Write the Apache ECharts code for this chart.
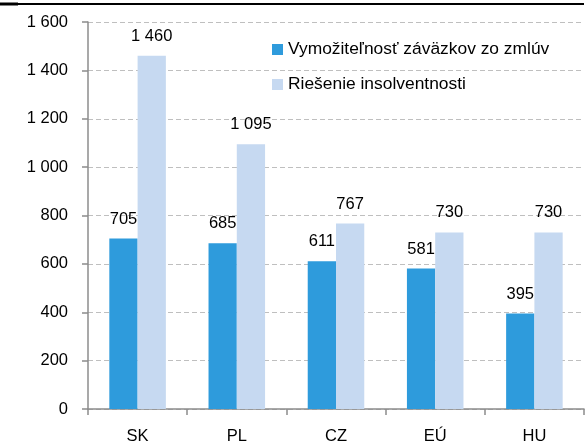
<!DOCTYPE html>
<html><head><meta charset="utf-8">
<script src="https://cdn.jsdelivr.net/npm/echarts@6/dist/echarts.min.js"></script>
<style>html,body{margin:0;padding:0;background:#fff}#c{width:586px;height:448px}</style>
</head><body><div id="c"></div>
<script>
const categories = ['SK', 'PL', 'CZ', 'EÚ', 'HU'];
const seriesNames = ['Vymožiteľnosť záväzkov zo zmlúv', 'Riešenie insolventnosti'];
const enforcing = [705, 685, 611, 581, 395];
const insolvency = [1460, 1095, 767, 730, 730];
const yTicks = [0, 200, 400, 600, 800, 1000, 1200, 1400, 1600];

function fmt(v) { return String(v).replace(/\B(?=(\d{3})+(?!\d))/g, ' '); }
const font = 'Liberation Sans, Arial, sans-serif';
const chart = echarts.init(document.getElementById('c'), null, {renderer: 'canvas'});
const labelCfg = {show: true, position: 'top', distance: 11, color: '#000', fontSize: 16.5, fontFamily: font,
  formatter: p => fmt(p.value)};
chart.setOption({
  animation: false,
  textStyle: {fontFamily: font},
  graphic: {elements: [
    {type: 'rect', id: 'frameTop', z: 100, shape: {x: 0, y: 3, width: 584, height: 2}, style: {fill: '#000'}},
    {type: 'rect', id: 'frameTopThick', z: 100, shape: {x: 0, y: 2.5, width: 18, height: 3}, style: {fill: '#000'}}
  ]},
  legend: {
    orient: 'vertical', left: 267, top: 36, itemWidth: 11, itemHeight: 11, itemGap: 18,
    icon: 'rect', textStyle: {fontSize: 17.4, color: '#000', fontFamily: font},
    data: seriesNames
  },
  grid: {left: 88, right: 2, top: 22, bottom: 39, containLabel: false},
  xAxis: {
    type: 'category', data: categories,
    axisLine: {lineStyle: {color: '#8c8c8c', width: 1.5}},
    axisTick: {show: true, length: 6, lineStyle: {color: '#8c8c8c', width: 1.5}},
    axisLabel: {color: '#000', fontSize: 16.5, margin: 19, fontFamily: font}
  },
  yAxis: {
    type: 'value', min: yTicks[0], max: yTicks[yTicks.length - 1], interval: 200,
    axisLine: {show: true, lineStyle: {color: '#8c8c8c', width: 1.5}},
    axisTick: {show: true, length: 6, lineStyle: {color: '#8c8c8c', width: 1.5}},
    axisLabel: {color: '#000', fontSize: 16.5, margin: 20, fontFamily: font, formatter: v => fmt(v)},
    splitLine: {show: true, lineStyle: {color: '#bfbfbf', type: [5, 3], width: 1.2}}
  },
  series: [
    {name: seriesNames[0], type: 'bar', data: enforcing, barGap: '0%', barCategoryGap: '43%',
      itemStyle: {color: '#2e9bdc'}, label: labelCfg},
    {name: seriesNames[1], type: 'bar', data: insolvency,
      itemStyle: {color: '#c6d9f1'}, label: labelCfg}
  ]
});
</script></body></html>
